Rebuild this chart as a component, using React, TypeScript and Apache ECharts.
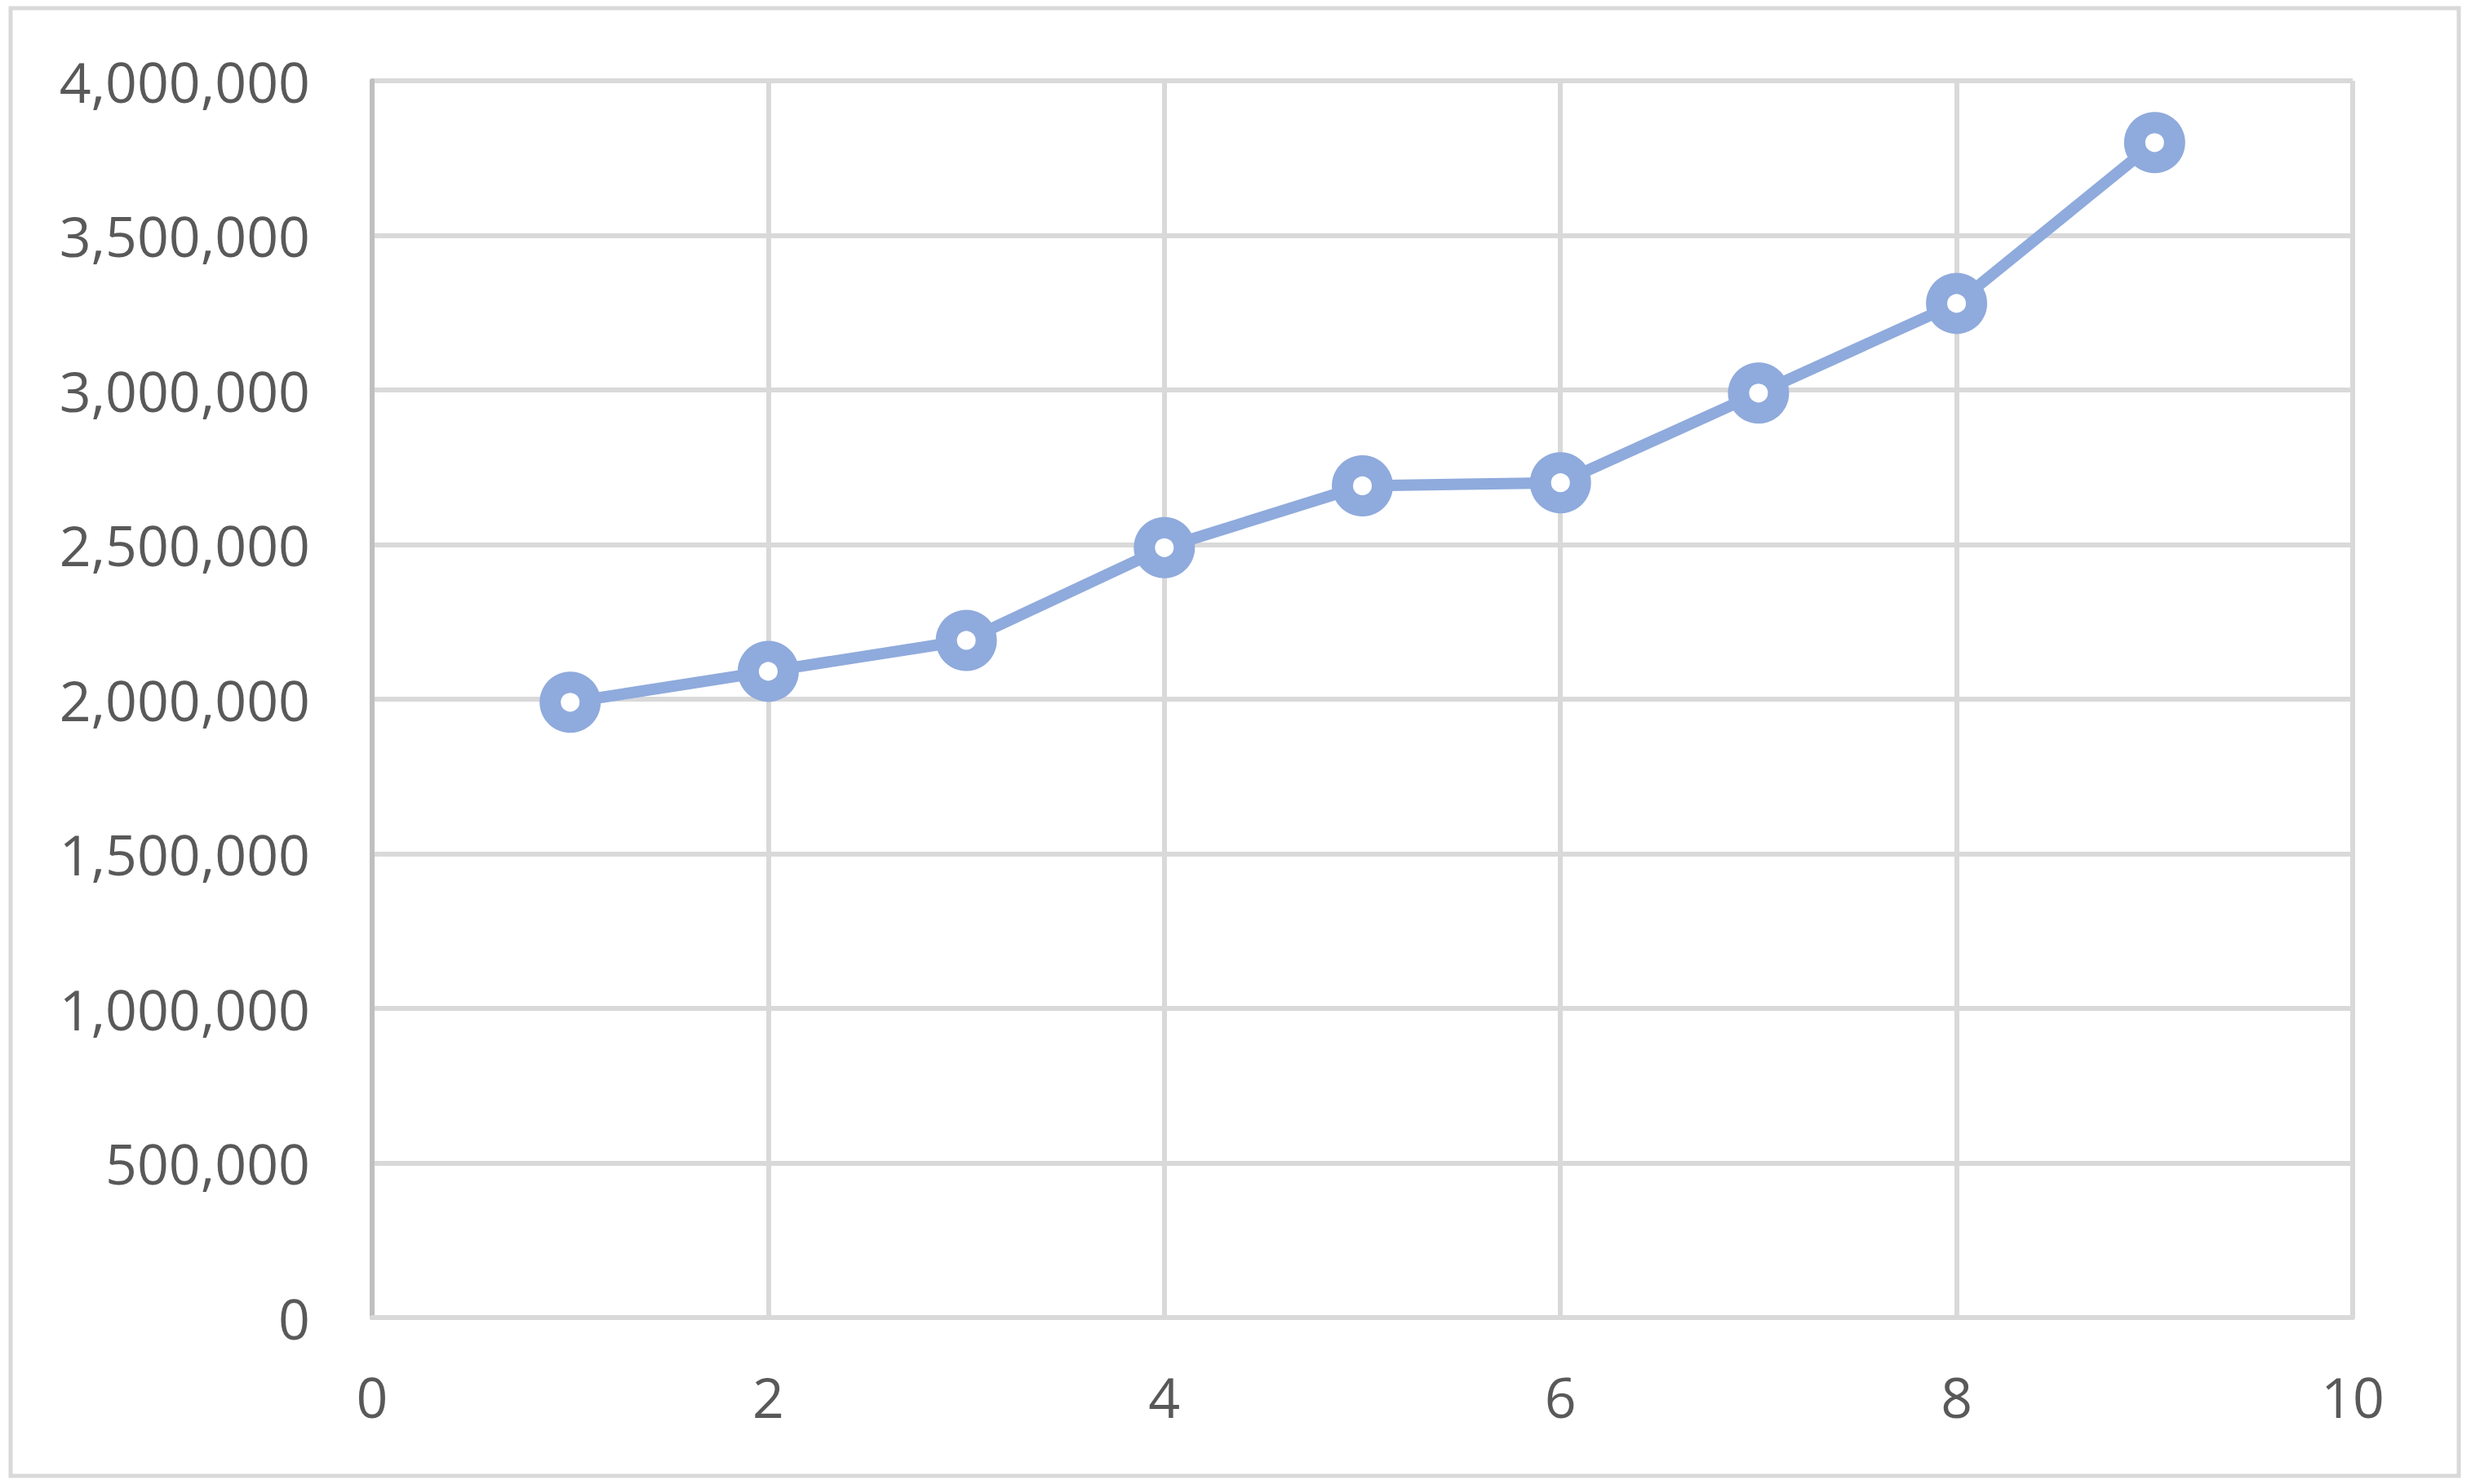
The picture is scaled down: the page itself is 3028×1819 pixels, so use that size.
import React, { useEffect, useRef } from "react";
import * as echarts from "echarts";

const xValues = [1, 2, 3, 4, 5, 6, 7, 8, 9];
const yValues = [1990000, 2090000, 2190000, 2490000, 2690000, 2700000, 2990000, 3280000, 3800000];

const W = 3028;
const H = 1819;

export default function App() {
  const ref = useRef<HTMLDivElement>(null);
  useEffect(() => {
    document.body.style.margin = "0";
    const chart = echarts.init(ref.current!, null, { renderer: "svg", width: W, height: H });
    const points = xValues.map((x, i) => [x, yValues[i]]);
    const fmt = (v: number) => v.toLocaleString("en-US");
    chart.setOption({
      animation: false,
      backgroundColor: "#ffffff",
      textStyle: { fontFamily: "Open Sans" },
      graphic: [
        {
          type: "rect",
          shape: { x: 13, y: 10, width: 3000, height: 1799 },
          style: { fill: "none", stroke: "#d9d9d9", lineWidth: 5 },
          silent: true,
          z: -10,
        },
      ],
      grid: {
        left: 456,
        right: W - 2883,
        top: 99,
        bottom: H - 1615,
        outerBoundsMode: "none",
        containLabel: false,
      },
      xAxis: {
        type: "value",
        min: 0,
        max: 10,
        interval: 2,
        axisLine: { show: true, onZero: false, lineStyle: { color: "#d9d9d9", width: 6 } },
        axisTick: { show: false },
        splitLine: { show: true, lineStyle: { color: "#d9d9d9", width: 6 } },
        axisLabel: {
          color: "#595959",
          fontSize: 68,
          fontFamily: "Open Sans",
          margin: 62,
        },
      },
      yAxis: {
        type: "value",
        min: 0,
        max: 4000000,
        interval: 500000,
        axisLine: { show: true, onZero: false, lineStyle: { color: "#bfbfbf", width: 6 } },
        axisTick: { show: false },
        splitLine: { show: true, lineStyle: { color: "#d9d9d9", width: 6 } },
        axisLabel: {
          color: "#595959",
          fontSize: 68,
          fontFamily: "Open Sans",
          margin: 76,
          formatter: (v: number) => fmt(v),
        },
      },
      series: [
        {
          type: "line",
          data: points,
          lineStyle: { color: "#8faadc", width: 14 },
          symbol: "circle",
          symbolSize: 49,
          itemStyle: { color: "#ffffff", borderColor: "#8faadc", borderWidth: 26 },
          emphasis: { disabled: true },
          z: 5,
        },
      ],
    });
    return () => chart.dispose();
  }, []);
  return <div ref={ref} style={{ width: W, height: H }} />;
}
